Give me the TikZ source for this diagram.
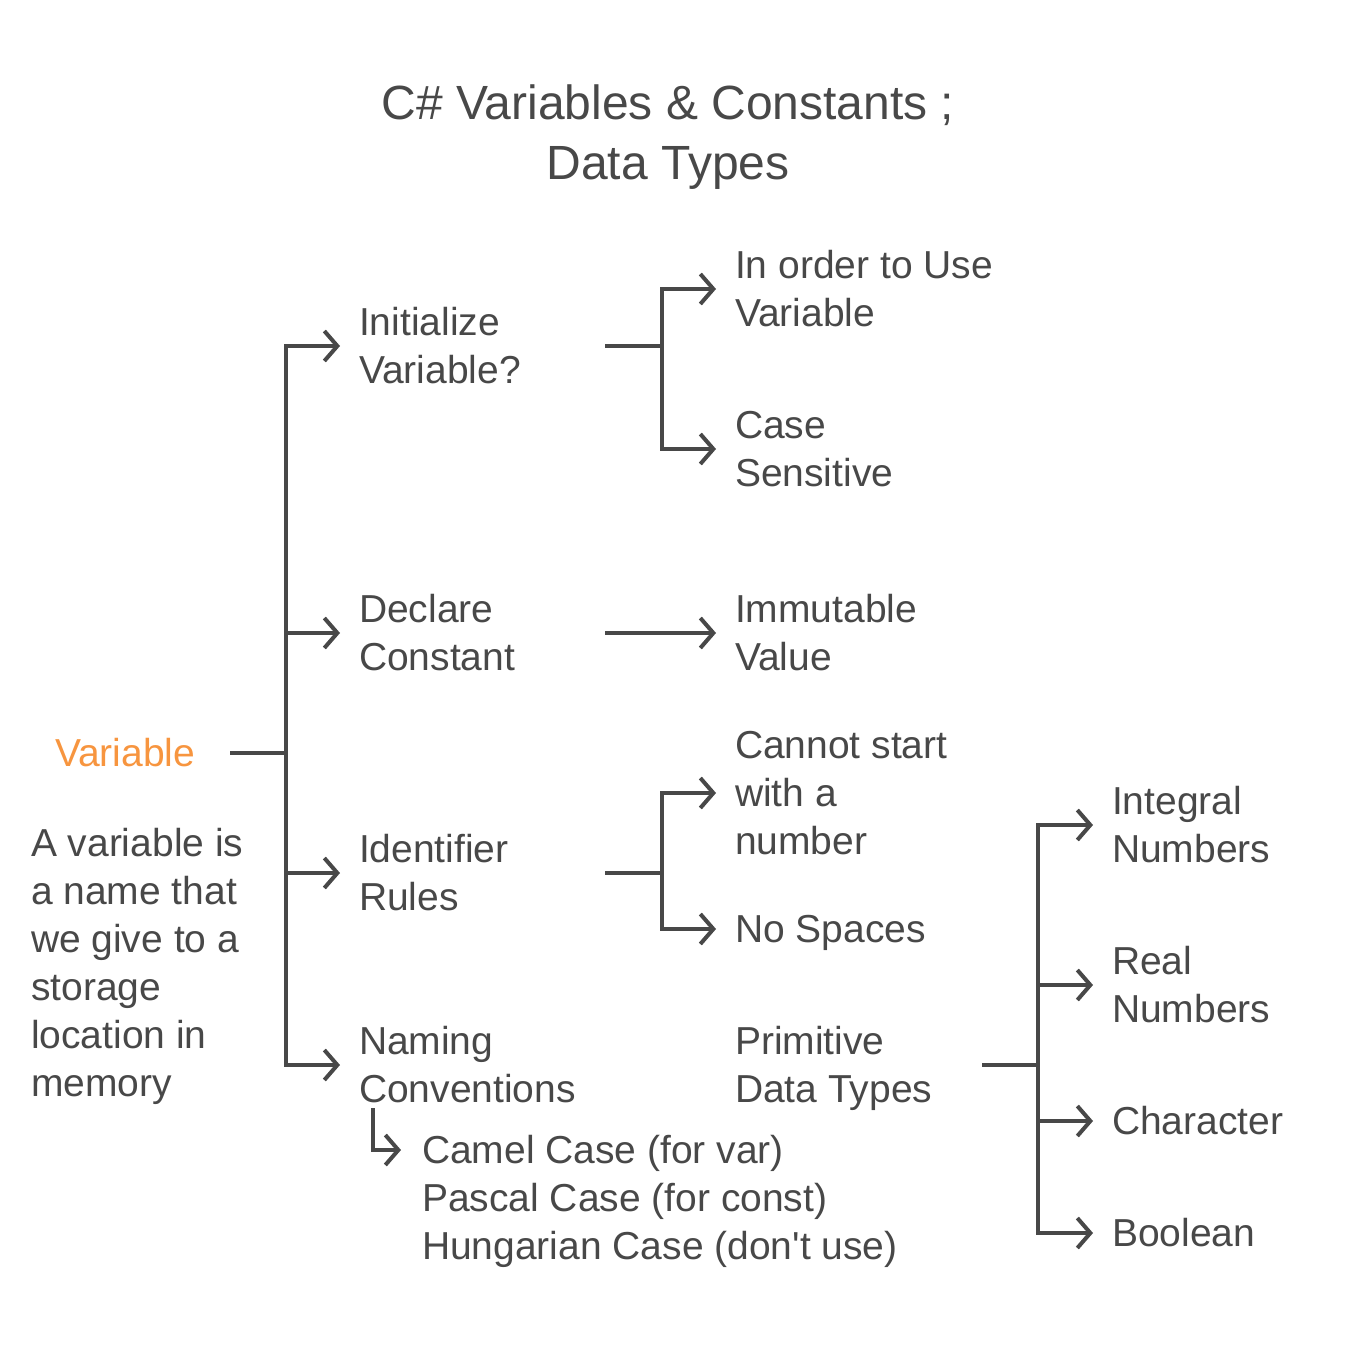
\documentclass[tikz,border=0pt]{standalone}
\usepackage{fontspec}
\setmainfont{Liberation Sans}
\usetikzlibrary{arrows.meta}
\definecolor{ink}{HTML}{484848}
\definecolor{accent}{HTML}{F7953F}
\newcommand\ls{\rule[-10.4pt]{0pt}{48pt}}
\newcommand\tls{\rule[-14pt]{0pt}{60pt}}
\tikzset{
  txt/.style={font=\fontsize{39}{48}\selectfont, text=ink, inner sep=0pt, outer xsep=19pt, outer ysep=0pt, align=left, anchor=west},
  ttl/.style={font=\fontsize{48}{60}\selectfont, text=ink, inner sep=0pt, align=center},
  conn/.style={draw=ink, line width=4pt},
  arr/.style={conn, -{Straight Barb[length=13pt,width=30pt]}},
}
\begin{document}
\begin{tikzpicture}[x=1pt,y=-1pt]
\useasboundingbox (0,0) rectangle (1348,1356);
% title
\node[ttl] (title) at (668,134) {\tls C\# Variables \& Constants ;\\\tls Data Types};
% root
\node[txt, text=accent, outer xsep=0pt] (var) at (55,753) {\ls Variable};
\node[txt, outer xsep=0pt] (desc) at (31,963) {\ls A variable is\\\ls a name that\\\ls we give to a\\\ls storage\\\ls location in\\\ls memory};
% level 1
\node[txt] (init) at (340,346) {\ls Initialize\\\ls Variable?};
\node[txt] (decl) at (340,633) {\ls Declare\\\ls Constant};
\node[txt] (ident) at (340,873) {\ls Identifier\\\ls Rules};
\node[txt] (naming) at (340,1065) {\ls Naming\\\ls Conventions};
% level 2
\node[txt] (order) at (716,289) {\ls In order to Use\\\ls Variable};
\node[txt] (case) at (716,449) {\ls Case\\\ls Sensitive};
\node[txt] (immut) at (716,633) {\ls Immutable\\\ls Value};
\node[txt] (cannot) at (716,793) {\ls Cannot start\\\ls with a\\\ls number};
\node[txt] (nospace) at (716,929) {\ls No Spaces};
\node[txt, outer xsep=0pt] (prim) at (735,1065) {\ls Primitive\\\ls Data Types};
\node[txt, outer xsep=21pt] (camel) at (401,1150) {\ls Camel Case (for var)};
\node[txt, outer xsep=0pt] (pascal) at (422,1198) {\ls Pascal Case (for const)};
\node[txt, outer xsep=0pt] (hung) at (422,1246) {\ls Hungarian Case (don\textquotesingle t use)};
% level 3
\node[txt] (integral) at (1093,825) {\ls Integral\\\ls Numbers};
\node[txt] (real) at (1093,985) {\ls Real\\\ls Numbers};
\node[txt] (char) at (1093,1121) {\ls Character};
\node[txt] (bool) at (1093,1233) {\ls Boolean};
% connectors
\coordinate (v0) at (230,753);
\coordinate (tr) at (286,753);
\draw[conn] (v0) -- (tr);
\foreach \n in {init,decl,ident,naming} \draw[arr] (tr) |- (\n.west);
\coordinate (i0) at (605,346);
\coordinate (i1) at (662,346);
\draw[conn] (i0) -- (i1);
\draw[arr] (i1) |- (order.west);
\draw[arr] (i1) |- (case.west);
\coordinate (d0) at (605,633);
\draw[arr] (d0) -- (immut.west);
\coordinate (r0) at (605,873);
\coordinate (r1) at (662,873);
\draw[conn] (r0) -- (r1);
\draw[arr] (r1) |- (cannot.west);
\draw[arr] (r1) |- (nospace.west);
\coordinate (n0) at (373,1108);
\draw[arr] (n0) |- (camel.west);
\coordinate (p0) at (982,1065);
\coordinate (p1) at (1038,1065);
\draw[conn] (p0) -- (p1);
\foreach \n in {integral,real,char,bool} \draw[arr] (p1) |- (\n.west);
\end{tikzpicture}
\end{document}
